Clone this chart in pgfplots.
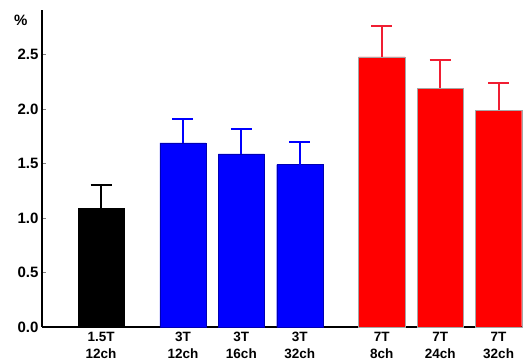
\documentclass[border=0pt]{standalone}
\usepackage{pgfplots}
\pgfplotsset{compat=1.18}
\usepackage{fontspec}
\setmainfont{Liberation Sans}
\definecolor{barblue}{RGB}{0,0,255}
\definecolor{barred}{RGB}{255,0,0}
\definecolor{errred}{RGB}{240,30,50}
\begin{document}
\begin{tikzpicture}
\begin{axis}[
  scale only axis, width=480pt, height=317pt,
  xmin=-1.01, xmax=7.2, ymin=0, ymax=2.91,
  axis lines*=left,
  axis line style={line width=1.8pt, black},
  ybar, bar width=0.79, bar shift=0pt,
  xtick={0,1.4,2.4,3.4,4.8,5.8,6.8},
  xticklabels={{1.5T\\12ch},{3T\\12ch},{3T\\16ch},{3T\\32ch},{7T\\8ch},{7T\\24ch},{7T\\32ch}},
  xticklabel style={align=center, font=\bfseries\fontsize{13.5}{16.5}\selectfont, yshift=-2pt},
  xtick style={draw=none},
  ytick={0,0.5,1,1.5,2,2.5},
  yticklabel style={font=\bfseries\fontsize{15}{16}\selectfont, /pgf/number format/fixed, /pgf/number format/precision=1, /pgf/number format/fixed zerofill, /pgf/number format/assume math mode=true},
  ytick style={draw=gray, thin},
  tick align=inside, major tick length=4pt,
  clip=false,
]
\addplot[fill=black, draw=black,
  error bars/y dir=plus, error bars/y explicit,
  error bars/error bar style={line width=2pt, color=black},
  error bars/error mark options={rotate=90, mark size=10.5pt, line width=2pt, color=black}]
  coordinates {(0,1.09) +- (0,0.21)};
\addplot[fill=barblue, draw=barblue!70!black, thin,
  error bars/y dir=plus, error bars/y explicit,
  error bars/error bar style={line width=2pt, color=barblue},
  error bars/error mark options={rotate=90, mark size=10.5pt, line width=2pt, color=barblue}]
  coordinates {(1.4,1.69) +- (0,0.22) (2.4,1.59) +- (0,0.23) (3.4,1.49) +- (0,0.21)};
\addplot[fill=barred, draw=gray!70, thin,
  error bars/y dir=plus, error bars/y explicit,
  error bars/error bar style={line width=2pt, color=errred},
  error bars/error mark options={rotate=90, mark size=10.5pt, line width=2pt, color=errred}]
  coordinates {(4.8,2.48) +- (0,0.28) (5.8,2.19) +- (0,0.26) (6.8,1.99) +- (0,0.25)};
\node[anchor=east, font=\bfseries\fontsize{15}{16}\selectfont] at ([xshift=-11pt]rel axis cs:0,0.967) {\%};
\path ([xshift=-42pt,yshift=-36.3pt]rel axis cs:0,0) ([xshift=3pt,yshift=10pt]rel axis cs:1,1);
\end{axis}
\end{tikzpicture}
\end{document}
